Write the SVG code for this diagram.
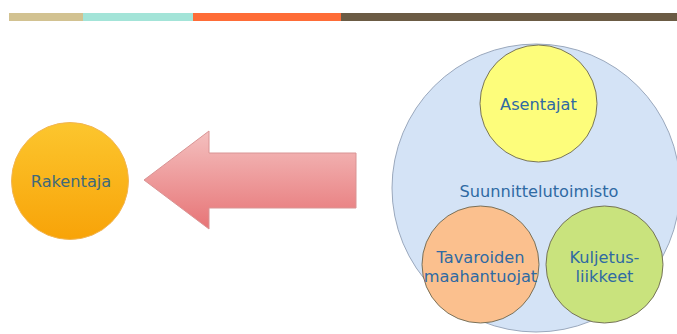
<svg xmlns="http://www.w3.org/2000/svg" width="677" height="334" viewBox="0 0 677 334">
  <defs>
    <linearGradient id="gOrange" x1="0" y1="0" x2="0" y2="1">
      <stop offset="0" stop-color="#fcc62e"/>
      <stop offset="1" stop-color="#f8a308"/>
    </linearGradient>
    <linearGradient id="gArrow" x1="0" y1="0" x2="0" y2="1">
      <stop offset="0" stop-color="#f4c0bf"/>
      <stop offset="1" stop-color="#e77476"/>
    </linearGradient>
  </defs>
  <style>
    .lbl { font-family: "DejaVu Sans", Verdana, sans-serif; font-size: 16.2px; text-anchor: middle; fill: #2f6aa3; }
    .sub { stroke: #6b6650; stroke-width: 0.9; }
  </style>
  <rect width="677" height="334" fill="#ffffff"/>

  <!-- header band -->
  <g id="header">
    <rect x="9" y="13" width="74" height="8" fill="#d2c291"/>
    <rect x="83" y="13" width="110" height="8" fill="#a3e4d8"/>
    <rect x="193" y="13" width="148" height="8" fill="#fe6c37"/>
    <rect x="341" y="13" width="336" height="8" fill="#6b5b44"/>
  </g>

  <g id="rakentaja">
    <circle cx="70" cy="181" r="58.5" fill="url(#gOrange)" stroke="#f2b553" stroke-width="1"/>
    <text class="lbl" x="71" y="187" style="fill:#40697a">Rakentaja</text>
  </g>

  <g id="connectors">
    <path d="M144,180 L209,131 L209,153 L356,153 L356,208 L209,208 L209,229 Z" fill="url(#gArrow)" stroke="#d99494" stroke-width="1"/>
  </g>

  <g id="suunnittelutoimisto">
    <circle cx="536" cy="188" r="144" fill="#d4e3f6" stroke="#9aa8bd" stroke-width="1"/>
    <text class="lbl" x="539" y="197">Suunnittelutoimisto</text>
  </g>

  <g id="asentajat">
    <circle class="sub" cx="538.5" cy="103.5" r="58.5" fill="#fdfd7b"/>
    <text class="lbl" x="538.5" y="110">Asentajat</text>
  </g>

  <g id="tavaroiden">
    <circle class="sub" cx="480.5" cy="264.5" r="58.5" fill="#fbc08e"/>
    <text class="lbl" x="480.5" y="263">Tavaroiden</text>
    <text class="lbl" x="480.5" y="282">maahantuojat</text>
  </g>

  <g id="kuljetus">
    <circle class="sub" cx="604.5" cy="264.5" r="58.5" fill="#c9e37d"/>
    <text class="lbl" x="604.5" y="263">Kuljetus-</text>
    <text class="lbl" x="604.5" y="282">liikkeet</text>
  </g>
</svg>
